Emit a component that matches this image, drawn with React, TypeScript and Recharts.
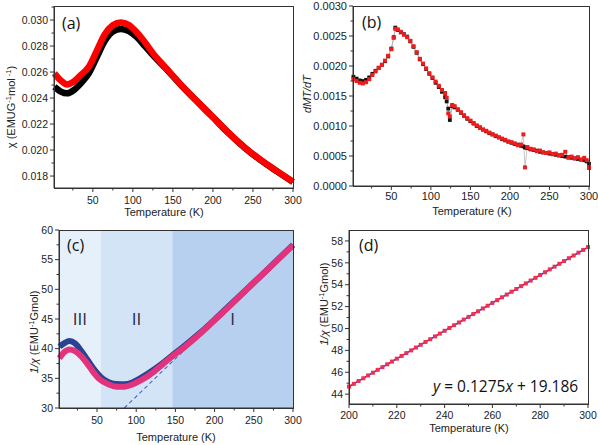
import React from 'react';
import { ComposedChart, Line, XAxis, YAxis, ReferenceArea } from 'recharts';

// (a) chi vs T, two runs
const chiT = [2, 10, 18, 26, 35, 45, 55, 65, 75, 85, 95, 105, 115, 125, 140, 160, 180, 200, 220, 240, 260, 280, 300];
const chiBlack = [0.02487, 0.0245, 0.02436, 0.0246, 0.02513, 0.0259, 0.02715, 0.0284, 0.02912, 0.02932, 0.02915, 0.02868, 0.028, 0.0273, 0.02635, 0.025, 0.02375, 0.02252, 0.02128, 0.02016, 0.0192, 0.01836, 0.01754];
const chiRed = [0.0259, 0.02535, 0.02505, 0.02525, 0.02577, 0.0264, 0.02765, 0.0289, 0.0296, 0.02982, 0.02962, 0.02905, 0.0283, 0.02745, 0.0264, 0.02503, 0.02377, 0.02254, 0.0213, 0.02018, 0.01922, 0.01838, 0.01756];
const chiXMajor = [50, 100, 150, 200, 250, 300];
const chiXMinor = [25, 75, 125, 175, 225, 275];
const chiYMajor = [0.018, 0.02, 0.022, 0.024, 0.026, 0.028, 0.03];
const chiYMinor = [0.019, 0.021, 0.023, 0.025, 0.027, 0.029, 0.031];

// (b) dMT/dT
const bT = [
  2, 6, 10, 14, 18, 22, 26, 30, 34, 38, 42, 46, 50, 53, 55,
  58, 62, 66, 70, 74, 78, 82, 86, 90, 94, 98, 102, 106, 110, 114, 118,
  120, 122, 124, 127, 130,
  134, 138, 142, 146, 150, 154, 158, 162, 166, 170, 174, 178, 182, 186, 190, 194, 198, 202, 206, 210, 214,
  217, 219,
  222, 226, 230, 234, 238, 242, 246, 250, 254, 258, 262, 266, 270, 274, 278, 282, 286, 290, 294,
  297, 300,
];
const bBlack = [
  0.00182, 0.00179, 0.00176, 0.00175, 0.00177, 0.00181, 0.00187, 0.00192, 0.00197, 0.00202, 0.00208, 0.00216, 0.00229, 0.00248, 0.00264,
  0.0026, 0.00256, 0.00253, 0.00249, 0.00241, 0.00232, 0.00222, 0.00211, 0.00203, 0.00195, 0.00187, 0.0018, 0.00172, 0.00165, 0.00157, 0.00148,
  0.00141, 0.00129, 0.0011, 0.00133, 0.00131,
  0.00127, 0.00122, 0.00117, 0.00112, 0.00108, 0.00104, 0.001, 0.00097, 0.00094, 0.00091, 0.00088, 0.00086, 0.00083, 0.00081, 0.00078, 0.00076, 0.00074, 0.00072, 0.0007, 0.00069, 0.00067,
  0.00066, 0.00064,
  0.00063, 0.00061, 0.0006, 0.00059, 0.00057, 0.00056, 0.00055, 0.00054, 0.00053, 0.00052, 0.00051, 0.0005, 0.00049, 0.00048, 0.00047, 0.00046, 0.00045, 0.00044, 0.00043,
  0.00041, 0.00037,
];
const bRed = [
  0.00178, 0.00175, 0.00172, 0.00171, 0.00173, 0.00178, 0.00185, 0.00191, 0.00197, 0.00202, 0.00209, 0.00217, 0.00228, 0.00247, 0.00262,
  0.00261, 0.00257, 0.00252, 0.00248, 0.00242, 0.00233, 0.00223, 0.00212, 0.00204, 0.00196, 0.00188, 0.00181, 0.00174, 0.00167, 0.0016, 0.00155,
  0.00147, 0.00121, 0.00116, 0.00135, 0.00133,
  0.00128, 0.00123, 0.00118, 0.00113, 0.00109, 0.00105, 0.00101, 0.00098, 0.00094, 0.00092, 0.00089, 0.00086, 0.00084, 0.00081, 0.00079, 0.00077, 0.00074, 0.00073, 0.00071, 0.00068, 0.00069,
  0.00086, 0.00031,
  0.00065, 0.00062, 0.00061, 0.00058, 0.00059, 0.00056, 0.00055, 0.00056, 0.00053, 0.00054, 0.00051, 0.00052, 0.00057, 0.00047, 0.00049, 0.00046, 0.00048, 0.00044, 0.00047,
  0.00043, 0.0003,
];
const bYMajor = [0, 0.0005, 0.001, 0.0015, 0.002, 0.0025, 0.003];
const bYMinor = [0.00025, 0.00075, 0.00125, 0.00175, 0.00225, 0.00275];

// (c) 1/chi vs T
const cT = [2, 8, 15, 22, 30, 38, 45, 52, 58, 65, 75, 85, 95, 105, 115, 125, 135, 145, 160, 180, 200, 220, 240, 260, 280, 300];
const cBlue = [40.35, 40.9, 41.28, 40.9, 39.6, 38.1, 36.75, 35.6, 34.85, 34.35, 34.03, 34.0, 34.3, 35.0, 35.8, 36.7, 37.7, 38.75, 40.3, 42.5, 44.9, 47.4, 49.9, 52.4, 54.95, 57.5];
const cRed = [38.4, 39.4, 39.88, 39.6, 38.7, 37.4, 36.1, 35.0, 34.42, 33.95, 33.6, 33.6, 33.95, 34.6, 35.4, 36.4, 37.5, 38.6, 40.1, 42.35, 44.8, 47.3, 49.85, 52.38, 54.92, 57.45];
const cZones = [1.5, 55, 146, 300];
const cZoneNames = ['III', 'II', 'I'];
const cZoneColors = ['#e6f0fb', '#d3e4f7', '#b7d0ef'];
const cFitT = [84.8, 300];
const cFitV = [30, 57.44];
const cYMajor = [30, 35, 40, 45, 50, 55, 60];
const cYMinor = [32.5, 37.5, 42.5, 47.5, 52.5, 57.5];

// (d) linear fit region
const dT = [200, 202, 204, 206, 208, 210, 212, 214, 216, 218, 220, 222, 224, 226, 228, 230, 232, 234, 236, 238, 240, 242, 244, 246, 248, 250, 252, 254, 256, 258, 260, 262, 264, 266, 268, 270, 272, 274, 276, 278, 280, 282, 284, 286, 288, 290, 292, 294, 296, 298, 300];
const dV = [44.69, 44.94, 45.2, 45.45, 45.71, 45.96, 46.22, 46.47, 46.73, 46.98, 47.24, 47.49, 47.75, 48.0, 48.26, 48.51, 48.77, 49.02, 49.28, 49.53, 49.79, 50.04, 50.3, 50.55, 50.81, 51.06, 51.32, 51.57, 51.83, 52.08, 52.34, 52.59, 52.85, 53.1, 53.36, 53.61, 53.87, 54.12, 54.38, 54.63, 54.89, 55.14, 55.4, 55.65, 55.91, 56.16, 56.42, 56.67, 56.93, 57.18, 57.44];
const dFitT = [200, 300];
const dFitV = [44.686, 57.436];
const dXMajor = [200, 220, 240, 260, 280, 300];
const dXMinor = [210, 230, 250, 270, 290];
const dYMajor = [44, 46, 48, 50, 52, 54, 56, 58];
const dYMinor = [45, 47, 49, 51, 53, 55, 57];

const ARIAL = '"Liberation Sans", Arial, sans-serif';
const SANS = '"Open Sans", "Noto Sans", sans-serif';
const AX = '#333';

function xTick(majors: number[], fmt: (v: number) => string, dy: number, fs = 10.5) {
  return (p: any) => {
    const { x, y, payload } = p;
    const major = majors.includes(payload.value);
    return (
      <g>
        <line x1={x} y1={y} x2={x} y2={y + (major ? 4 : 2.5)} stroke={AX} />
        {major && (
          <text x={x} y={y + dy} textAnchor="middle" fontFamily={ARIAL} fontSize={fs} fill="#222">
            {fmt(payload.value)}
          </text>
        )}
      </g>
    );
  };
}

function yTick(majors: number[], fmt: (v: number) => string, fs = 10.5) {
  return (p: any) => {
    const { x, y, payload } = p;
    const major = majors.includes(payload.value);
    return (
      <g>
        <line x1={x} y1={y} x2={x - (major ? 4 : 2.5)} y2={y} stroke={AX} />
        {major && (
          <text x={x - 6} y={y} dy="0.35em" textAnchor="end" fontFamily={ARIAL} fontSize={fs} fill="#222">
            {fmt(payload.value)}
          </text>
        )}
      </g>
    );
  };
}

const square = (color: string, s: number) => (p: any) => (
  <rect key={p.index} x={p.cx - s / 2} y={p.cy - s / 2} width={s} height={s} fill={color} />
);

const chiData = chiT.map((t, i) => ({ t, black: chiBlack[i], red: chiRed[i] }));
const bData = bT.map((t, i) => ({ t, black: bBlack[i], red: bRed[i] }));
const cData = cT.map((t, i) => ({ t, blue: cBlue[i], red: cRed[i] }));
const cFit = cFitT.map((t, i) => ({ t, fit: cFitV[i] }));
const dData = dT.map((t, i) => ({ t, v: dV[i] }));
const dFit = dFitT.map((t, i) => ({ t, fit: dFitV[i] }));

const pos = (left: number, top: number): React.CSSProperties => ({ position: 'absolute', left, top });

// plot boxes in page pixels, used for the frame rectangles
const boxes = [
  [54, 6, 293, 188],
  [353, 6, 589, 186],
  [59, 230, 293, 408],
  [349, 230, 588, 404],
];

export default function App() {
  const chiDom: [number, number] = [0.01708, 0.03108];
  const bDom: [number, number] = [0, 0.003];
  const cDom: [number, number] = [30, 60];
  const dDom: [number, number] = [43.1, 59];
  const tDom: [number, number] = [1.5, 300];

  return (
    <div style={{ position: 'relative', width: 600, height: 445, background: '#fff', overflow: 'hidden' }}>
      <style>{'body{margin:0}'}</style>

      {/* (a) */}
      <div style={pos(0, 0)}>
        <ComposedChart width={310} height={220} data={chiData} margin={{ top: 6, left: 4, right: 17, bottom: 12 }}>
          <XAxis dataKey="t" type="number" domain={tDom} ticks={[...chiXMajor, ...chiXMinor]} interval={0}
            height={20} tickSize={0} tickMargin={0} tickLine={false} stroke={AX}
            tick={xTick(chiXMajor, (v) => String(v), 15.5)} />
          <YAxis type="number" domain={chiDom} ticks={[...chiYMajor, ...chiYMinor]} interval={0}
            width={50} tickSize={0} tickMargin={0} tickLine={false} stroke={AX}
            tick={yTick(chiYMajor, (v) => v.toFixed(3))} />
          <Line dataKey="black" type="monotone" stroke="#000" strokeWidth={6.5} dot={false} isAnimationActive={false} />
          <Line dataKey="red" type="monotone" stroke="#ff0000" strokeWidth={6.5} dot={false} isAnimationActive={false} />
        </ComposedChart>
      </div>

      {/* (b) */}
      <div style={pos(300, 0)}>
        <ComposedChart width={300} height={220} data={bData} margin={{ top: 6, left: 3, right: 11, bottom: 14 }}>
          <XAxis dataKey="t" type="number" domain={tDom} ticks={[...chiXMajor, ...chiXMinor]} interval={0}
            height={20} tickSize={0} tickMargin={0} tickLine={false} stroke={AX}
            tick={xTick(chiXMajor, (v) => String(v), 14, 11)} />
          <YAxis type="number" domain={bDom} ticks={[...bYMajor, ...bYMinor]} interval={0}
            width={50} tickSize={0} tickMargin={0} tickLine={false} stroke={AX}
            tick={yTick(bYMajor, (v) => v.toFixed(4), 11)} />
          <Line dataKey="black" type="linear" stroke="#9a9a9a" strokeWidth={0.7} dot={square('#111', 3.8)} isAnimationActive={false} />
          <Line dataKey="red" type="linear" stroke="#b0b0b0" strokeWidth={0.7} dot={square('#ee1c1c', 4)} isAnimationActive={false} />
        </ComposedChart>
      </div>

      {/* (c) */}
      <div style={pos(0, 220)}>
        <ComposedChart width={310} height={225} data={cData} margin={{ top: 10, left: 9, right: 17, bottom: 17 }}>
          <XAxis dataKey="t" type="number" domain={tDom} ticks={[...chiXMajor, ...chiXMinor]} interval={0}
            height={20} tickSize={0} tickMargin={0} tickLine={false} stroke={AX}
            tick={xTick(chiXMajor, (v) => String(v), 16)} />
          <YAxis type="number" domain={cDom} ticks={[...cYMajor, ...cYMinor]} interval={0}
            width={50} tickSize={0} tickMargin={0} tickLine={false} stroke={AX}
            tick={yTick(cYMajor, (v) => String(v))} />
          {cZoneNames.map((n, i) => (
            <ReferenceArea key={n} x1={cZones[i]} x2={cZones[i + 1]} y1={cDom[0]} y2={cDom[1]}
              fill={cZoneColors[i]} fillOpacity={1} stroke="none"
              label={{ value: n, position: 'center', fill: '#1e2a48', fontSize: 17, fontFamily: SANS }} />
          ))}
          <Line data={cFit} dataKey="fit" type="linear" stroke="#4a63c8" strokeWidth={1.1} strokeDasharray="4 3" dot={false} isAnimationActive={false} />
          <Line dataKey="blue" type="monotone" stroke="#2b4292" strokeWidth={6} dot={false} isAnimationActive={false} />
          <Line dataKey="red" type="monotone" stroke="#e2337c" strokeWidth={6} dot={false} isAnimationActive={false} />
        </ComposedChart>
      </div>

      {/* (d) */}
      <div style={pos(300, 220)}>
        <ComposedChart width={300} height={225} data={dData} margin={{ top: 10, left: 4, right: 12, bottom: 21 }}>
          <XAxis dataKey="t" type="number" domain={[200, 300]} ticks={[...dXMajor, ...dXMinor]} interval={0}
            height={20} tickSize={0} tickMargin={0} tickLine={false} stroke={AX}
            tick={xTick(dXMajor, (v) => String(v), 15)} />
          <YAxis type="number" domain={dDom} ticks={[...dYMajor, ...dYMinor]} interval={0}
            width={45} tickSize={0} tickMargin={0} tickLine={false} stroke={AX}
            tick={yTick(dYMajor, (v) => String(v))} />
          <Line dataKey="v" type="linear" stroke="none" dot={square('#f0304f', 4)} isAnimationActive={false} />
          <Line data={dFit} dataKey="fit" type="linear" stroke="#2233dd" strokeWidth={1.6} dot={false} isAnimationActive={false} />
        </ComposedChart>
      </div>

      {/* frames and labels */}
      <svg width={600} height={445} style={{ position: 'absolute', left: 0, top: 0, pointerEvents: 'none' }}>
        {boxes.map(([x0, y0, x1, y1], i) => (
          <rect key={i} x={x0 + 0.5} y={y0 + 0.5} width={x1 - x0} height={y1 - y0} fill="none" stroke={AX} />
        ))}
        <g fontFamily={SANS} fontSize={16} fill="#111">
          <text x={62} y={29}>(a)</text>
          <text x={362} y={28}>(b)</text>
          <text x={67} y={251}>(c)</text>
          <text x={359} y={251}>(d)</text>
        </g>
        <text x={433} y={392} fontFamily={SANS} fontSize={15.5} fill="#111">
          <tspan fontStyle="italic">y</tspan> = 0.1275<tspan fontStyle="italic">x</tspan> + 19.186
        </text>
        <g fontFamily={ARIAL} fontSize={11} fill="#222" textAnchor="middle">
          <text x={164} y={215.5}>Temperature (K)</text>
          <text x={472} y={214.5}>Temperature (K)</text>
          <text x={176} y={441}>Temperature (K)</text>
          <text x={469} y={431.5}>Temperature (K)</text>
          <text transform="translate(15,107) rotate(-90)">
            χ (EMUG<tspan fontSize={7.5} dy={-4}>-1</tspan><tspan dy={4}>mol</tspan><tspan fontSize={7.5} dy={-4}> -1</tspan><tspan dy={4}>)</tspan>
          </text>
          <text transform="translate(311,94) rotate(-90)" fontStyle="italic">dMT/dT</text>
          <text transform="translate(38,332) rotate(-90)">
            <tspan fontStyle="italic">1/χ</tspan> (EMU<tspan fontSize={7.5} dy={-4}>-1</tspan><tspan dy={4}>Gmol)</tspan>
          </text>
          <text transform="translate(328,304) rotate(-90)">
            <tspan fontStyle="italic">1/χ</tspan> (EMU<tspan fontSize={7.5} dy={-4}>-1</tspan><tspan dy={4}>Gmol)</tspan>
          </text>
        </g>
      </svg>
    </div>
  );
}
